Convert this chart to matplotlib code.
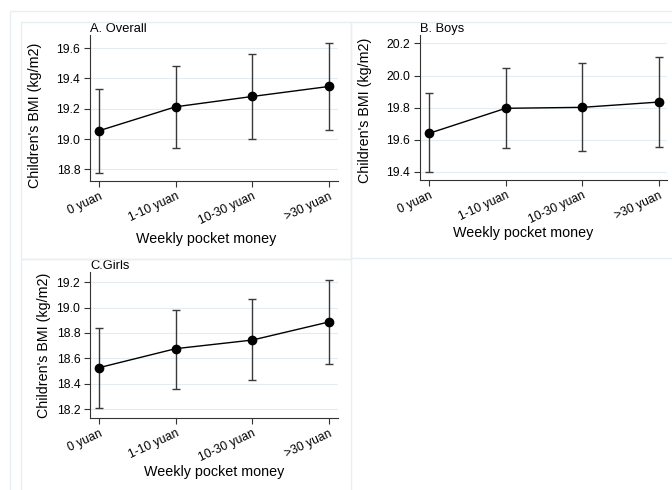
import numpy as np
import matplotlib
matplotlib.use("Agg")
from matplotlib import pyplot as plt
from matplotlib.patches import Rectangle

plt.rcParams['font.family'] = ['Liberation Sans', 'DejaVu Sans']

# data
groups = ["0 yuan", "1-10 yuan", "10-30 yuan", ">30 yuan"]

overall_mean = [19.055, 19.213, 19.281, 19.347]
overall_lo = [18.78, 18.943, 19.00, 19.057]
overall_hi = [19.33, 19.485, 19.56, 19.633]

boys_mean = [19.64, 19.796, 19.802, 19.835]
boys_lo = [19.398, 19.548, 19.533, 19.558]
boys_hi = [19.891, 20.044, 20.077, 20.114]

girls_mean = [18.526, 18.676, 18.744, 18.887]
girls_lo = [18.208, 18.361, 18.425, 18.556]
girls_hi = [18.842, 18.982, 19.065, 19.216]

W, H = 672, 490
grid_col = "#e3edf1"
frame_col = "#e6eff2"


def rect(l, t, r, b):
    return [l / W, 1 - b / H, (r - l) / W, (b - t) / H]


def px(x, y):
    return x / W, 1 - y / H


def panel(ax, mean, lo, hi, ticks, ylim, title, xlim):
    x = np.arange(len(groups))
    mean = np.array(mean)
    err = [mean - np.array(lo), np.array(hi) - mean]
    ax.errorbar(x, mean, yerr=err, fmt='none', ecolor='#3a3a3a',
                elinewidth=1.0, capsize=3.2, capthick=1.0, zorder=3)
    ax.plot(x, mean, color='black', lw=1.0, marker='o', ms=6, zorder=4)
    ax.set_xlim(*xlim)
    ax.set_ylim(*ylim)
    ax.set_yticks(ticks)
    ax.set_yticklabels(["%.1f" % t for t in ticks], fontsize=8.7)
    ax.set_xticks(x)
    ax.set_xticklabels(groups, fontsize=8.7, rotation=25, ha='right',
                       va='top', rotation_mode='anchor')
    ax.tick_params(length=4, width=0.8, color='#333333', pad=3)
    ax.grid(axis='y', color=grid_col, lw=0.8)
    ax.set_axisbelow(True)
    for s in ['top', 'right']:
        ax.spines[s].set_visible(False)
    for s in ['left', 'bottom']:
        ax.spines[s].set_color('#333333')
        ax.spines[s].set_linewidth(0.8)
    ax.set_title(title, loc='left', fontsize=9.3, pad=2)


fig = plt.figure(figsize=(W / 100, H / 100), dpi=100)

# light frames like the stata graph combine
for (l, t, r, b) in [(10, 11, 700, 520), (21, 22, 351, 259),
                     (351, 22, 700, 258), (21, 259, 351, 520)]:
    fig.patches.append(Rectangle(px(l, b), (r - l) / W, (b - t) / H,
                                 transform=fig.transFigure, fill=False,
                                 ec=frame_col, lw=1.0, clip_on=False))

axA = fig.add_axes(rect(90, 35, 338, 181))
panel(axA, overall_mean, overall_lo, overall_hi,
      [18.8, 19.0, 19.2, 19.4, 19.6], (18.724, 19.686), "A. Overall",
      (-0.117, 3.117))

axB = fig.add_axes(rect(420, 35, 667, 180))
panel(axB, boys_mean, boys_lo, boys_hi,
      [19.4, 19.6, 19.8, 20.0, 20.2], (19.35, 20.252), "B. Boys",
      (-0.117, 3.104))

axC = fig.add_axes(rect(90, 272, 338, 418))
panel(axC, girls_mean, girls_lo, girls_hi,
      [18.2, 18.4, 18.6, 18.8, 19.0, 19.2], (18.129, 19.281), "C.Girls",
      (-0.117, 3.117))

ylab = "Children's BMI (kg/m2)"
xlab = "Weekly pocket money"
for (x, y) in [(35.5, 115), (365.5, 110), (44, 345)]:
    fig.text(*px(x, y), ylab, rotation=90, ha='center', va='center', fontsize=10.3)
for (x, y) in [(206, 239), (523, 233), (214, 472)]:
    fig.text(*px(x, y), xlab, ha='center', va='center', fontsize=10.3)

fig.savefig("out.png", dpi=100)
